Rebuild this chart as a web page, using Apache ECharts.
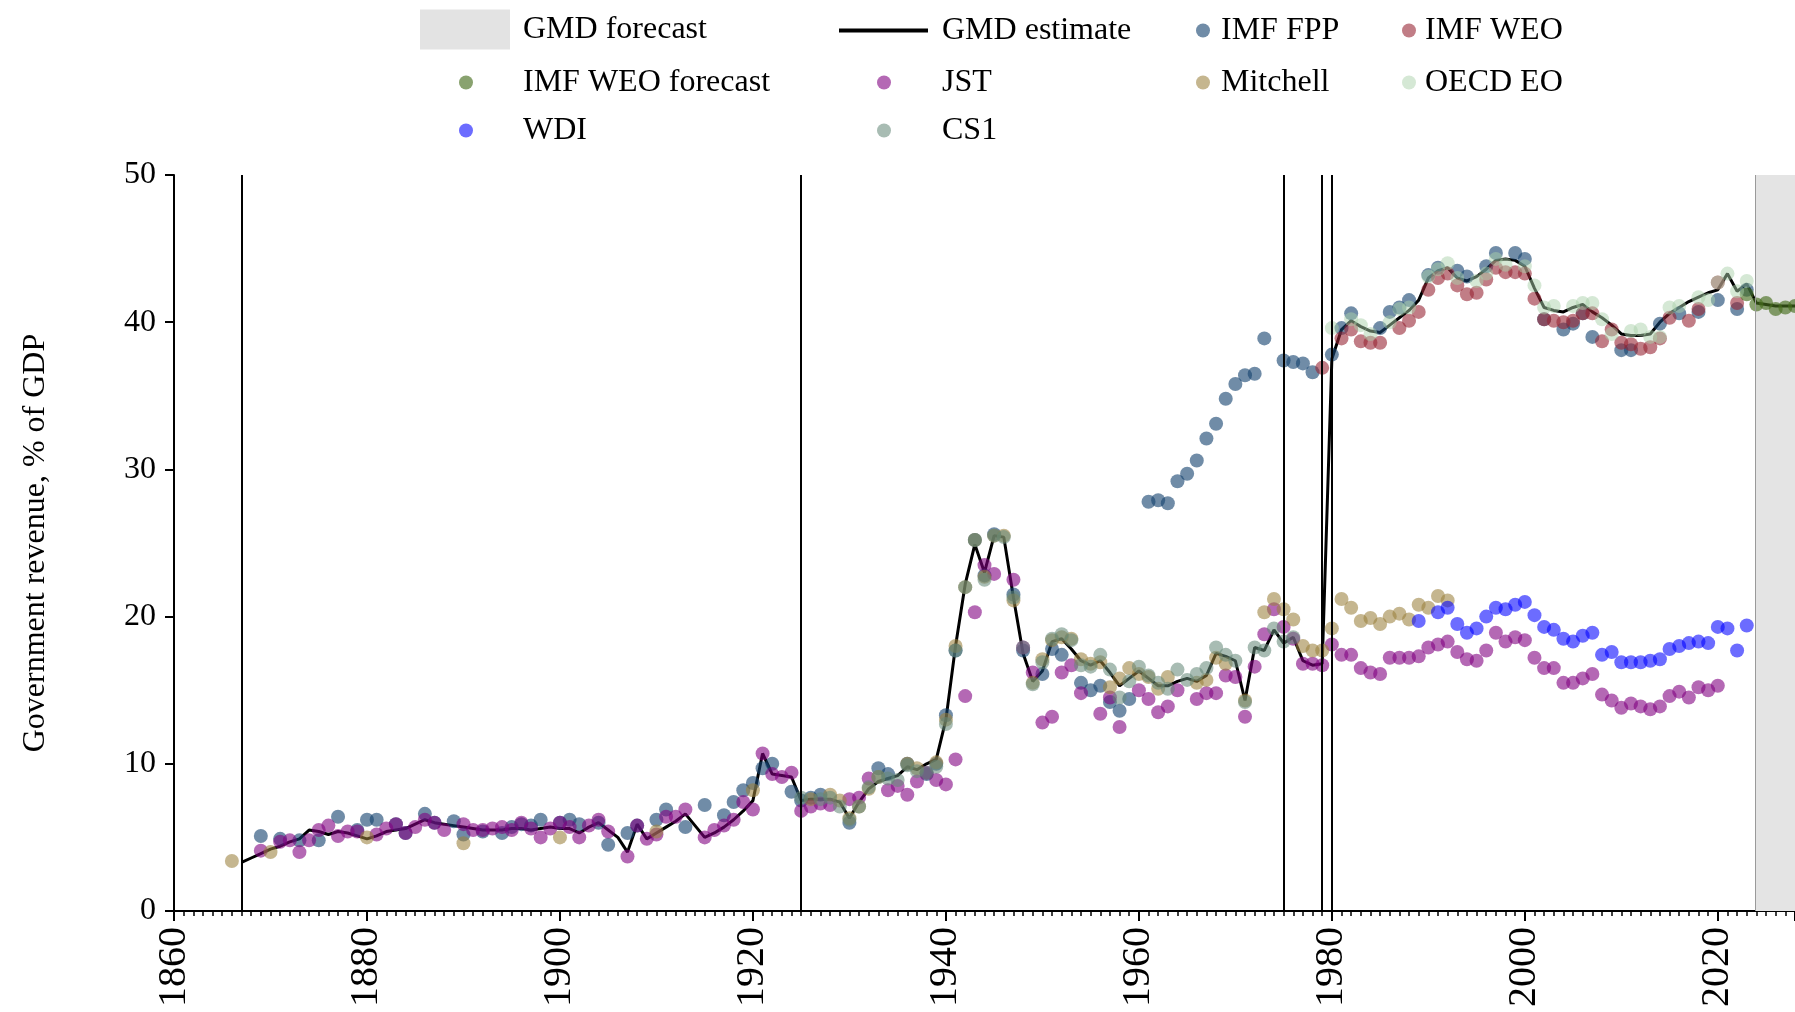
<!DOCTYPE html>
<html>
<head>
<meta charset="utf-8">
<script src="https://cdn.jsdelivr.net/npm/echarts@6/dist/echarts.min.js"></script>
<style>html,body{margin:0;padding:0;background:#fff}#c{width:1795px;height:1012px}</style>
</head>
<body>
<div id="c"></div>
<script>
// ---------------- DATA (year, % of GDP) ----------------
const xTickLabels = [1860, 1880, 1900, 1920, 1940, 1960, 1980, 2000, 2020];
const breakYears = [1867, 1925, 1975, 1979, 1980];
const forecastStart = 2023.9;
const xMin = 1860, xMax = 2028;

const gmdEstimate = [
[1867,3.3],[1868,3.6],[1869,3.9],[1870,4.2],[1871,4.4],[1872,4.7],[1873,4.9],[1874,5.5],[1875,5.4],[1876,5.2],
[1877,5.4],[1878,5.3],[1879,5.1],[1880,4.9],[1881,5.1],[1882,5.4],[1883,5.5],[1884,5.6],[1885,5.9],[1886,6.2],
[1887,6.0],[1888,5.9],[1889,5.8],[1890,5.7],[1891,5.6],[1892,5.5],[1893,5.5],[1894,5.5],[1895,5.6],[1896,5.6],
[1897,5.5],[1898,5.6],[1899,5.7],[1900,5.6],[1901,5.6],[1902,5.3],[1903,5.7],[1904,6.0],[1905,5.5],[1906,5.0],
[1907,4.0],[1908,5.9],[1909,4.9],[1910,5.3],[1911,5.7],[1912,6.1],[1913,6.6],[1914,5.8],[1915,5.0],[1916,5.3],
[1917,5.7],[1918,6.2],[1919,6.8],[1920,7.5],[1921,10.7],[1922,9.3],[1923,9.2],[1924,9.1],[1925,7.5],[1926,7.6],
[1927,7.6],[1928,7.6],[1929,7.4],[1930,6.3],[1931,7.4],[1932,8.3],[1933,8.8],[1934,9.0],[1935,9.2],[1936,9.8],
[1937,9.6],[1938,10.0],[1939,10.3],[1940,13.0],[1941,18.0],[1942,22.2],[1943,24.9],[1944,23.0],[1945,25.5],[1946,25.4],
[1947,21.3],[1948,17.5],[1949,15.6],[1950,16.3],[1951,18.3],[1952,18.5],[1953,17.8],[1954,17.0],[1955,16.7],[1956,17.0],
[1957,16.2],[1958,15.3],[1959,15.8],[1960,16.3],[1961,15.8],[1962,15.3],[1963,15.3],[1964,15.6],[1965,15.8],[1966,15.6],
[1967,16.0],[1968,17.5],[1969,17.3],[1970,17.0],[1971,14.3],[1972,17.9],[1973,17.7],[1974,19.1],[1975,18.2],[1976,18.6],
[1977,17.0],[1978,16.7],[1979,16.8],[1980,37.5],[1981,39.5],[1982,40.1],[1983,39.7],[1984,39.4],[1985,39.3],[1986,39.8],
[1987,40.3],[1988,40.8],[1989,41.5],[1990,43.0],[1991,43.5],[1992,43.7],[1993,43.0],[1994,42.8],[1995,43.1],[1996,43.6],
[1997,44.2],[1998,44.3],[1999,44.2],[2000,43.8],[2001,42.3],[2002,41.0],[2003,40.8],[2004,40.7],[2005,41.0],[2006,41.2],
[2007,40.7],[2008,40.3],[2009,39.8],[2010,39.2],[2011,39.1],[2012,39.1],[2013,39.2],[2014,40.0],[2015,40.6],[2016,41.0],
[2017,41.4],[2018,41.7],[2019,42.0],[2020,42.2],[2021,43.3],[2022,42.1],[2023,42.6],[2024,41.3],[2025,41.2],[2026,41.1],
[2027,41.1],[2028,41.1],[2029,41.1]];

const imfFPP = [
[1869,5.1],[1871,4.9],[1873,4.8],[1875,4.8],[1877,6.4],[1879,5.5],[1880,6.2],[1881,6.2],[1883,5.9],[1884,5.3],
[1886,6.6],[1887,6.0],[1889,6.1],[1890,5.2],[1892,5.4],[1894,5.3],[1895,5.7],[1896,5.9],[1897,5.8],[1898,6.2],
[1900,6.0],[1901,6.2],[1902,5.9],[1904,6.0],[1905,4.5],[1907,5.3],[1908,5.8],[1910,6.2],[1911,6.9],[1913,5.7],
[1915,7.2],[1917,6.5],[1918,7.4],[1919,8.2],[1920,8.7],[1921,9.7],[1922,10.0],[1924,8.1],[1925,7.5],
[1926,7.7],[1927,7.9],[1930,6.0],[1933,9.7],[1934,9.3],[1936,10.0],[1938,9.3],[1939,10.0],[1940,13.3],[1941,17.7],
[1943,25.2],[1944,22.8],[1945,25.6],[1947,21.5],[1948,17.7],[1950,16.1],[1951,17.8],[1952,17.4],[1954,15.5],[1955,15.0],
[1956,15.3],[1957,14.2],[1958,13.6],[1959,14.4],
[1961,27.8],[1962,27.9],[1963,27.7],[1964,29.2],[1965,29.7],[1966,30.6],[1967,32.1],[1968,33.1],[1969,34.8],[1970,35.8],
[1971,36.4],[1972,36.5],[1973,38.9],[1975,37.4],[1976,37.3],[1977,37.2],[1978,36.6],
[1980,37.8],[1981,39.6],[1982,40.6],[1985,39.6],[1986,40.7],[1987,41.0],[1988,41.5],[1990,43.2],[1991,43.7],[1993,43.5],
[1994,43.1],[1996,43.8],[1997,44.7],[1999,44.7],[2000,44.3],[2002,40.2],[2004,39.5],[2005,39.9],[2006,40.6],[2007,39.0],
[2010,38.1],[2011,38.1],[2014,39.9],[2016,40.6],[2018,40.7],[2020,41.5],[2022,40.9],[2023,42.2]];

const imfWEO = [
[1979,36.9],[1981,38.9],[1982,39.5],[1983,38.7],[1984,38.6],[1985,38.6],[1987,39.6],[1988,40.1],[1989,40.7],[1990,42.2],
[1991,43.0],[1992,43.3],[1993,42.5],[1994,41.9],[1995,42.0],[1996,42.9],[1997,43.7],[1998,43.4],[1999,43.4],[2000,43.3],
[2001,41.6],[2002,40.2],[2003,40.1],[2004,40.0],[2005,40.1],[2006,40.6],[2007,40.6],[2008,38.7],[2009,39.5],[2010,38.6],
[2011,38.5],[2012,38.2],[2013,38.3],[2014,38.9],[2015,40.3],[2017,40.1],[2018,40.9],[2020,42.7],[2022,41.3]];

const imfWEOForecast = [[2023,41.9],[2024,41.2],[2025,41.3],[2026,40.9],[2027,41.0],[2028,41.1]];

const jst = [
[1869,4.1],[1871,4.7],[1872,4.8],[1873,4.0],[1874,4.8],[1875,5.5],[1876,5.8],[1877,5.1],[1878,5.4],[1879,5.4],
[1881,5.2],[1882,5.6],[1883,5.9],[1884,5.3],[1885,5.7],[1886,6.2],[1887,6.0],[1888,5.5],[1890,5.9],[1891,5.5],
[1892,5.5],[1893,5.6],[1894,5.7],[1895,5.5],[1896,6.0],[1897,5.6],[1898,5.0],[1899,5.6],[1900,6.0],[1901,5.7],
[1902,5.0],[1903,5.8],[1904,6.2],[1905,5.4],[1907,3.7],[1908,5.8],[1909,4.9],[1910,5.2],[1911,6.4],[1912,6.4],
[1913,6.9],[1915,5.0],[1916,5.5],[1917,5.8],[1918,6.2],[1919,7.4],[1920,6.9],[1921,10.7],[1922,9.3],[1923,9.1],
[1924,9.4],[1925,6.8],[1926,7.1],[1927,7.3],[1928,7.2],[1930,7.6],[1931,7.7],[1932,9.0],[1934,8.2],[1935,8.5],
[1936,7.9],[1937,8.8],[1938,9.4],[1939,8.9],[1940,8.6],[1941,10.3],[1942,14.6],[1943,20.3],[1944,23.5],[1945,22.9],
[1947,22.5],[1948,17.9],[1949,16.2],[1950,12.8],[1951,13.2],[1952,16.2],[1953,16.7],[1954,14.8],[1956,13.4],[1957,14.5],
[1958,12.5],[1960,15.0],[1961,14.4],[1962,13.5],[1963,13.9],[1964,15.0],[1966,14.4],[1967,14.8],[1968,14.8],[1969,16.0],
[1970,15.9],[1971,13.2],[1972,16.6],[1973,18.8],[1974,20.5],[1975,19.3],[1976,18.5],[1977,16.8],[1978,16.8],[1979,16.7],
[1980,18.1],[1981,17.4],[1982,17.4],[1983,16.5],[1984,16.2],[1985,16.1],[1986,17.2],[1987,17.2],[1988,17.2],[1989,17.3],
[1990,17.9],[1991,18.1],[1992,18.3],[1993,17.6],[1994,17.1],[1995,17.0],[1996,17.7],[1997,18.9],[1998,18.3],[1999,18.6],
[2000,18.4],[2001,17.2],[2002,16.5],[2003,16.5],[2004,15.5],[2005,15.5],[2006,15.8],[2007,16.1],[2008,14.7],[2009,14.3],
[2010,13.8],[2011,14.1],[2012,13.9],[2013,13.7],[2014,13.9],[2015,14.6],[2016,14.9],[2017,14.5],[2018,15.2],[2019,15.0],
[2020,15.3]];

const mitchell = [
[1866,3.4],[1870,4.0],[1880,5.0],[1890,4.6],[1900,5.0],[1910,5.4],[1920,8.2],
[1926,7.6],[1928,7.9],[1929,7.5],[1930,6.3],[1931,7.1],[1932,8.3],[1933,9.1],[1936,10.0],[1937,9.7],[1939,10.1],
[1940,13.0],[1941,18.0],[1942,22.0],[1943,25.2],[1944,22.7],[1945,25.5],[1946,25.5],[1947,21.1],[1949,15.5],[1950,17.1],
[1951,18.4],[1952,18.6],[1953,18.5],[1954,17.1],[1955,16.8],[1956,16.9],[1957,15.2],[1958,15.8],[1959,16.5],[1960,16.1],
[1961,15.9],[1962,15.1],[1963,15.9],[1966,15.5],[1967,15.7],[1968,17.2],[1969,16.8],[1971,14.3],[1973,20.3],[1974,21.2],
[1975,20.5],[1976,19.8],[1977,18.0],[1978,17.7],[1979,17.7],[1980,19.2],[1981,21.2],[1982,20.6],[1983,19.7],[1984,19.9],
[1985,19.5],[1986,20.0],[1987,20.2],[1988,19.8],[1989,20.8],[1990,20.6],[1991,21.4],[1992,21.1]];

const oecdEO = [
[1980,39.6],[1982,40.2],[1983,39.8],[1984,39.2],[1986,40.0],[1987,40.9],[1988,41.0],[1990,43.1],[1991,43.6],[1992,44.0],
[1993,43.0],[1995,42.8],[1996,43.3],[1997,44.3],[1998,43.9],[2000,43.8],[2001,42.5],[2002,41.0],[2003,41.1],[2005,41.1],
[2006,41.3],[2007,41.3],[2008,40.2],[2009,39.2],[2011,39.4],[2012,39.5],[2013,39.0],[2014,39.0],[2015,41.0],[2016,41.1],
[2018,41.7],[2019,41.5],[2020,42.7],[2021,43.3],[2022,42.1],[2023,42.8]];

const wdi = [
[1989,19.7],[1991,20.3],[1992,20.6],[1993,19.5],[1994,18.9],[1995,19.2],[1996,20.0],[1997,20.6],[1998,20.5],[1999,20.8],
[2000,21.0],[2001,20.1],[2002,19.3],[2003,19.1],[2004,18.5],[2005,18.3],[2006,18.7],[2007,18.9],[2008,17.4],[2009,17.6],
[2010,16.9],[2011,16.9],[2012,16.9],[2013,17.0],[2014,17.1],[2015,17.8],[2016,18.0],[2017,18.2],[2018,18.3],[2019,18.2],
[2020,19.3],[2021,19.2],[2022,17.7],[2023,19.4]];

const cs1 = [
[1925,7.7],[1927,7.6],[1928,7.7],[1929,7.1],[1930,6.2],[1931,7.1],[1932,8.4],[1933,9.1],[1934,9.0],[1935,8.9],
[1936,9.9],[1937,9.5],[1938,9.4],[1939,9.8],[1940,12.7],[1941,17.7],[1942,22.0],[1943,25.2],[1944,22.5],[1945,25.5],
[1946,25.4],[1947,21.3],[1948,17.9],[1949,15.4],[1950,16.9],[1951,18.5],[1952,18.8],[1953,18.4],[1954,16.7],[1955,16.6],
[1956,17.4],[1957,16.4],[1958,14.5],[1959,15.6],[1960,16.6],[1961,16.0],[1962,15.5],[1963,15.1],[1964,16.4],[1965,15.7],
[1966,16.1],[1967,16.5],[1968,17.9],[1969,17.4],[1970,17.0],[1971,14.2],[1972,17.9],[1973,17.7],[1974,19.2],[1975,18.3],
[1976,18.6]];

// ---------------- STYLE ----------------
const FONT = "'Liberation Serif', 'Times New Roman', serif";
const FS = 32;
const colors = {
  'GMD forecast': '#e3e3e3',
  'GMD estimate': '#000000',
  'IMF FPP': 'rgba(20,65,110,0.76)',
  'IMF WEO': 'rgba(150,35,50,0.74)',
  'IMF WEO forecast': 'rgba(70,110,30,0.8)',
  'JST': 'rgba(128,0,128,0.74)',
  'Mitchell': 'rgba(155,128,60,0.72)',
  'OECD EO': 'rgba(170,208,170,0.62)',
  'WDI': 'rgba(0,0,255,0.72)',
  'CS1': 'rgba(100,135,120,0.7)'
};

function scatter(name, data) {
  return {
    name, type: 'scatter', data, symbol: 'circle', symbolSize: 14,
    itemStyle: { color: colors[name] }, z: 3
  };
}

function legendItem(name, left, centerY, w, h, pad, icon) {
  const boxH = Math.max(h, 36);
  return {
    data: [{ name, icon }],
    left, top: centerY - boxH / 2, padding: 0,
    itemWidth: w, itemHeight: h,
    selectedMode: false,
    textStyle: { fontFamily: FONT, fontSize: FS, color: '#000', lineHeight: 36, padding: pad }
  };
}

const chart = echarts.init(document.getElementById('c'), null, { renderer: 'canvas', width: 1795, height: 1012 });

const option = {
  animation: false,
  backgroundColor: '#ffffff',
  textStyle: { fontFamily: FONT },
  legend: [
    legendItem('GMD forecast', 420, 28, 90, 40, [7, 0, 0, 8], 'rect'),
    legendItem('GMD estimate', 839, 30.5, 89, 4, [0, 0, 0, 9], 'rect'),
    legendItem('IMF FPP', 1196, 30.5, 14, 14, [0, 0, 0, 6], 'circle'),
    legendItem('IMF WEO', 1402, 30.5, 14, 14, [0, 0, 0, 4], 'circle'),
    legendItem('IMF WEO forecast', 459, 82.5, 14, 14, [0, 0, 0, 45], 'circle'),
    legendItem('JST', 877, 82.5, 14, 14, [0, 0, 0, 46], 'circle'),
    legendItem('Mitchell', 1196, 82.5, 14, 14, [0, 0, 0, 6], 'circle'),
    legendItem('OECD EO', 1402, 82.5, 14, 14, [0, 0, 0, 4], 'circle'),
    legendItem('WDI', 459, 130.5, 14, 14, [0, 0, 0, 45], 'circle'),
    legendItem('CS1', 877, 130.5, 14, 14, [0, 0, 0, 46], 'circle')
  ],
  grid: { left: 174, top: 175, right: 0, bottom: 101, containLabel: false, outerBoundsMode: 'none' },
  xAxis: {
    type: 'value', min: xMin, max: xMax, interval: 20,
    axisLine: { show: true, onZero: false, lineStyle: { color: '#000', width: 2 } },
    axisTick: { show: true, length: 10, lineStyle: { color: '#000', width: 2 } },
    minorTick: { show: true, splitNumber: 20, length: 5, lineStyle: { color: '#000', width: 1.5 } },
    axisLabel: {
      rotate: 90, margin: 16, fontSize: 40, color: '#000', fontFamily: FONT,
      formatter: v => (xTickLabels.indexOf(v) >= 0 ? String(v) : '')
    },
    splitLine: { show: false }, minorSplitLine: { show: false }
  },
  yAxis: {
    type: 'value', min: 0, max: 50, interval: 10,
    axisLine: { show: true, lineStyle: { color: '#000', width: 2 } },
    axisTick: { show: true, length: 9, lineStyle: { color: '#000', width: 2 } },
    axisLabel: { fontSize: FS, margin: 18, color: '#000', fontFamily: FONT },
    splitLine: { show: false },
    name: 'Government revenue, % of GDP', nameLocation: 'middle', nameGap: 122,
    nameTextStyle: { fontSize: FS, color: '#000', fontFamily: FONT }
  },
  series: [
    {
      name: 'GMD forecast', type: 'line', data: [], symbol: 'none',
      itemStyle: { color: colors['GMD forecast'] }, lineStyle: { color: colors['GMD forecast'] },
      markArea: { silent: true, itemStyle: { color: '#e4e4e4' }, data: [[{ xAxis: forecastStart }, { xAxis: xMax }]] },
      markLine: { silent: true, symbol: ['none', 'none'], label: { show: false },
        lineStyle: { color: '#9a9a9a', width: 1, type: 'solid' }, data: [{ xAxis: forecastStart }] },
      z: 0
    },
    {
      name: 'GMD estimate', type: 'line', data: gmdEstimate, symbol: 'none', showSymbol: false,
      lineStyle: { color: '#000', width: 3 }, itemStyle: { color: colors['GMD estimate'] },
      markLine: { silent: true, symbol: ['none', 'none'], label: { show: false },
        lineStyle: { color: '#000', width: 2, type: 'solid' },
        data: breakYears.map(y => ({ xAxis: y })) },
      z: 2
    },
    scatter('IMF FPP', imfFPP),
    scatter('IMF WEO', imfWEO),
    scatter('IMF WEO forecast', imfWEOForecast),
    scatter('JST', jst),
    scatter('Mitchell', mitchell),
    scatter('OECD EO', oecdEO),
    scatter('WDI', wdi),
    scatter('CS1', cs1)
  ]
};
chart.setOption(option);
</script>
</body>
</html>
